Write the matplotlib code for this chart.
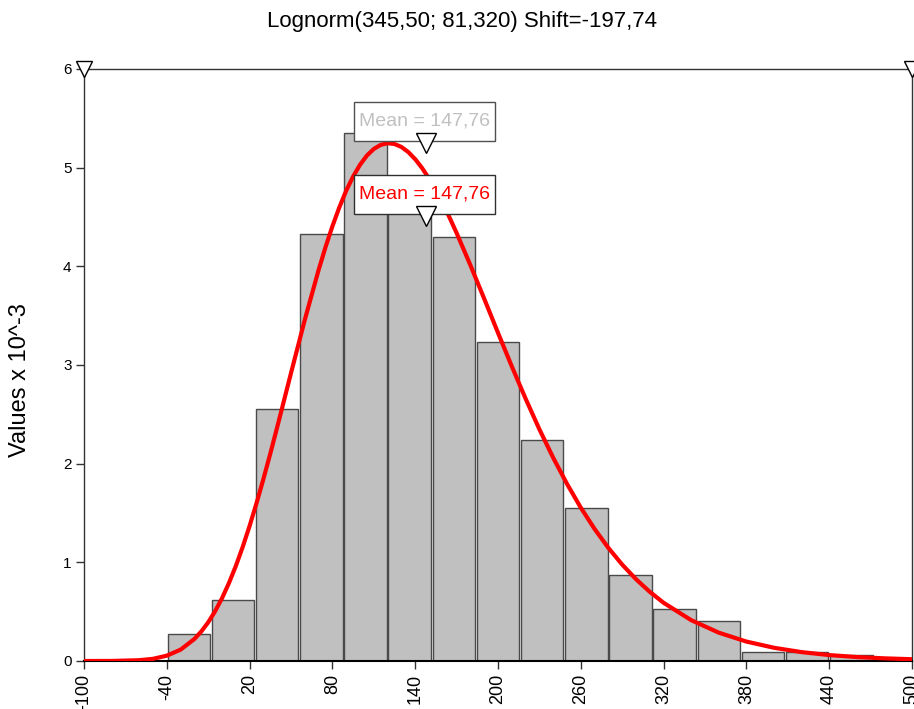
import matplotlib
matplotlib.use("Agg")
import matplotlib.pyplot as plt
from matplotlib.patches import Rectangle

plt.rcParams['font.family'] = ['Liberation Sans', 'DejaVu Sans']

# histogram (values x 10^-3), bins of 32 starting at -40
bin_left = [-40, -8, 24, 56, 88, 120, 152, 184, 216, 248, 280, 312, 344, 376, 408, 440]
bin_height = [0.27, 0.62, 2.55, 4.33, 5.35, 4.75, 4.30, 3.23, 2.24, 1.55, 0.87, 0.53, 0.41, 0.09, 0.09, 0.065]
bin_width = 32

# fitted lognormal density (values x 10^-3)
curve_x = [-100, -80, -60, -50, -40, -30, -20, -15, -10, -5, 0, 5, 10, 15, 20, 25, 30, 35,
           40, 50, 60, 70, 75, 80, 85, 90, 95, 100, 105, 110, 115, 120, 125, 130, 135, 140,
           145, 150, 155, 160, 165, 170, 180, 190, 200, 210, 220, 230, 240, 250, 260, 270,
           280, 290, 300, 310, 320, 340, 360, 380, 400, 420, 440, 460, 480, 500]
curve_y = [0.0, 0.0005, 0.008, 0.022, 0.054, 0.115, 0.223, 0.299, 0.392, 0.504, 0.636, 0.789,
           0.962, 1.156, 1.369, 1.599, 1.844, 2.102, 2.370, 2.918, 3.458, 3.963, 4.194, 4.406,
           4.597, 4.767, 4.910, 5.029, 5.123, 5.190, 5.231, 5.248, 5.240, 5.210, 5.158, 5.086,
           4.996, 4.890, 4.769, 4.635, 4.491, 4.338, 4.012, 3.672, 3.326, 2.986, 2.659, 2.348,
           2.060, 1.795, 1.554, 1.338, 1.146, 0.977, 0.829, 0.701, 0.590, 0.414, 0.287, 0.197,
           0.134, 0.090, 0.060, 0.040, 0.027, 0.018]

mean_value = 147.76
mean_label = 'Mean = 147,76'
x_ticks = [-100, -40, 20, 80, 140, 200, 260, 320, 380, 440, 500]
y_ticks = [0, 1, 2, 3, 4, 5, 6]
title = 'Lognorm(345,50; 81,320) Shift=-197,74'

fig = plt.figure(figsize=(9.14, 7.09), dpi=100)
ax = fig.add_axes([84 / 914, 1 - 661 / 709, 828 / 914, 592 / 709])

# bars with a small gap between them
gap = 1.2
ax.bar([b + gap / 2 for b in bin_left], bin_height, width=bin_width - gap, align='edge',
       color='#c0c0c0', edgecolor='#4a4a4a', linewidth=1.0, zorder=2)

ax.plot(curve_x, curve_y, color='#ff0000', linewidth=3.0, zorder=3,
        solid_joinstyle='round', solid_capstyle='butt')

# mean markers (gray = data, red = fit)
for y0, txt_color, edge in [(5.27, '#c0c0c0', '#505050'), (4.53, '#ff0000', '#303030')]:
    w, h = 102, 0.395
    ax.add_patch(Rectangle((mean_value - w / 2 - 1, y0), w, h, facecolor='white',
                           edgecolor=edge, linewidth=1.0, zorder=5))
    ax.text(mean_value - 1, y0 + h / 2 + 0.01, mean_label, color=txt_color, fontsize=14,
            ha='center', va='center', zorder=6)
    ax.plot([mean_value], [y0 - 0.015], marker='v', markersize=15, markerfacecolor='white',
            markeredgecolor='black', markeredgewidth=1.0, zorder=7)

# corner markers
ax.plot([-100, 500], [6, 6], linestyle='none', marker='v', markersize=12,
        markerfacecolor='white', markeredgecolor='black', markeredgewidth=1.0,
        zorder=8, clip_on=False)

ax.set_xlim(-100, 500)
ax.set_ylim(0, 6)
ax.set_xticks(x_ticks)
ax.set_xticklabels([str(t) for t in x_ticks], rotation=90, fontsize=13)
ax.set_yticks(y_ticks)
ax.set_yticklabels([str(t) for t in y_ticks], fontsize=11)
ax.tick_params(axis='both', direction='out', length=6, width=1.0, color='#333333', pad=3)
for s in ax.spines.values():
    s.set_linewidth(1.0)
    s.set_color('#333333')
ax.spines['bottom'].set_color('black')
ax.spines['bottom'].set_linewidth(1.5)

fig.text(462 / 914, 1 - 22 / 709, title, ha='center', va='center', fontsize=16)
fig.text(20 / 914, 1 - 380 / 709, 'Values x 10^-3', rotation=90, ha='center', va='center',
         fontsize=17)

fig.savefig('out.png', dpi=100)
